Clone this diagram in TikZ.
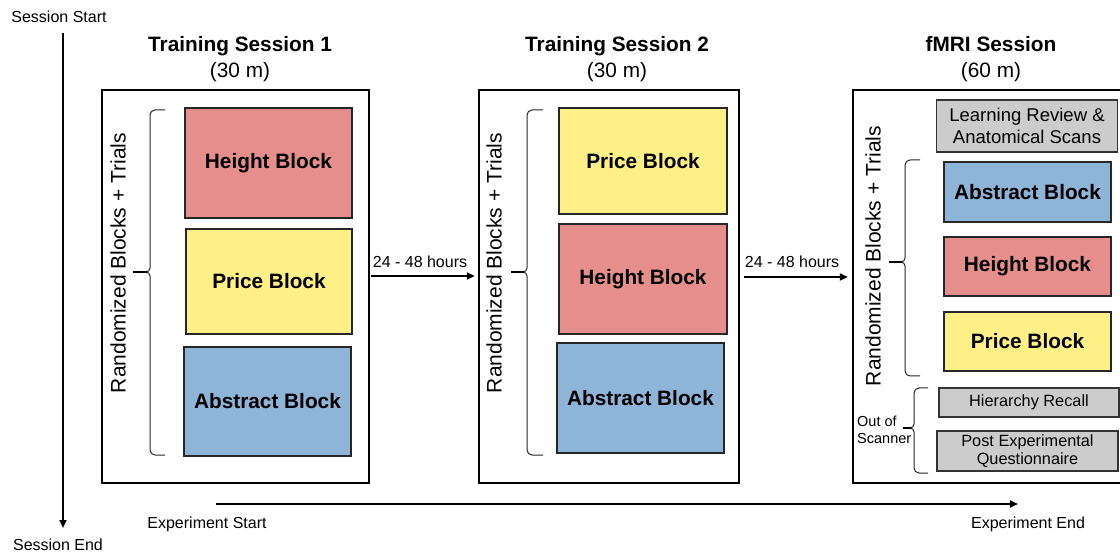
\documentclass[tikz,border=0pt]{standalone}
\usepackage{fontspec}
\setmainfont{Liberation Sans}
\usetikzlibrary{arrows.meta}
\definecolor{hcol}{RGB}{229,142,140}
\definecolor{pcol}{RGB}{254,239,134}
\definecolor{acol}{RGB}{142,180,216}
\definecolor{gcol}{RGB}{204,204,204}
\newcommand{\fs}[1]{\fontsize{#1}{#1}\selectfont}
\newcommand{\mybrace}[6]{% xend, xv, xtip, ytop, ytip, ybot
  \draw[bracestyle] (#1,#4) -- (#2+5,#4) to[out=180,in=90] (#2,#4+5) -- (#2,#5-4) to[out=-90,in=0] (#2-4,#5) -- (#3,#5);
  \draw[bracestyle] (#2-4,#5) to[out=0,in=90] (#2,#5+4) -- (#2,#6-5) to[out=-90,in=180] (#2+5,#6) -- (#1,#6);
  \draw[line width=2pt] (#3,#5) -- (#2-3,#5);
}
\begin{document}
\begin{tikzpicture}[x=1pt,y=-1pt,
  blk/.style={draw=black!85, line width=1.2pt, inner sep=0pt, font=\fs{20.8}\bfseries},
  gbox/.style={draw=black!80, fill=gcol, line width=1.2pt, inner sep=0pt, align=center},
  title/.style={align=center, font=\fs{20.8}, text depth=0pt},
  rot/.style={rotate=90, font=\fs{21}},
  small/.style={font=\fs{16}},
  arr/.style={line width=2pt, -{Triangle[length=8pt,width=7pt]}},
  bracestyle/.style={line width=1pt, draw=black!85}
]
\useasboundingbox (0,0) rectangle (1120,553);

% session axis
\node[small] (sstart) at (59,17) {Session Start};
\node[small] (send) at (58,545) {Session End};
\coordinate (sa) at (63,33);
\coordinate (sb) at (63,528);
\draw[arr] (sa) -- (sb);

% experiment axis
\coordinate (ea) at (216,504);
\coordinate (eb) at (1018,504);
\draw[arr] (ea) -- (eb);
\node[small] (estart) at (207,524) {Experiment Start};
\node[small] (eend) at (1028,524) {Experiment End};

% titles
\node[title] (t1) at (240,44) {\textbf{Training Session 1}};
\node[title] (t1b) at (240,70) {(30 m)};
\node[title] (t2) at (617,44) {\textbf{Training Session 2}};
\node[title] (t2b) at (617,70) {(30 m)};
\node[title] (t3) at (991,44) {\textbf{fMRI Session}};
\node[title] (t3b) at (991,70) {(60 m)};

% big boxes
\draw[line width=2.6pt] (102,90) rectangle (369,483);
\node[minimum width=267pt, minimum height=393pt, inner sep=0pt] (box1) at (235.5,286.5) {};
\draw[line width=2.6pt] (479,90) rectangle (739,483);
\node[minimum width=260pt, minimum height=393pt, inner sep=0pt] (box2) at (609,286.5) {};
\draw[line width=2.6pt] (853,90) rectangle (1124,483);
\node[minimum width=271pt, minimum height=393pt, inner sep=0pt] (box3) at (988.5,286.5) {};

% session 1 blocks
\node[blk, fill=hcol, minimum width=167pt, minimum height=110pt] (h1) at (268.5,163) {Height Block};
\node[blk, fill=pcol, minimum width=166pt, minimum height=105pt] (p1) at (269,281.5) {Price Block};
\node[blk, fill=acol, minimum width=167pt, minimum height=109pt] (a1) at (267.5,401.5) {Abstract Block};
\node[rot] (r1) at (118,263) {Randomized Blocks + Trials};
\mybrace{165}{150}{133}{110}{272}{455}

% session 2 blocks
\node[blk, fill=pcol, minimum width=168pt, minimum height=106pt] (p2) at (643,161) {Price Block};
\node[blk, fill=hcol, minimum width=168pt, minimum height=110pt] (h2) at (643,279) {Height Block};
\node[blk, fill=acol, minimum width=167pt, minimum height=110pt] (a2) at (640.5,398) {Abstract Block};
\node[rot] (r2) at (494,263) {Randomized Blocks + Trials};
\mybrace{543}{527}{511}{110}{272}{455}

% fMRI session blocks
\node[gbox, minimum width=181pt, minimum height=52pt, font=\fs{18.5}] (lr) at (1027,126) {Learning Review \&\\[3pt]Anatomical Scans};
\node[blk, fill=acol, minimum width=167pt, minimum height=60pt] (a3) at (1027.5,192) {Abstract Block};
\node[blk, fill=hcol, minimum width=167pt, minimum height=59pt] (h3) at (1027.5,266.5) {Height Block};
\node[blk, fill=pcol, minimum width=167pt, minimum height=59pt] (p3) at (1027.5,341.5) {Price Block};
\node[gbox, minimum width=180pt, minimum height=29pt, font=\fs{16.3}] (hr) at (1029,402.5) {Hierarchy Recall};
\node[gbox, minimum width=181pt, minimum height=40pt, font=\fs{16.3}] (pq) at (1027.5,451) {Post Experimental\\[2pt]Questionnaire};
\node[rot] (r3) at (873,256) {Randomized Blocks + Trials};
\mybrace{920}{905}{889}{160}{262}{376}
\mybrace{928}{914}{903}{388}{428}{473}
\node[font=\fs{14.5}, align=left, anchor=west, inner sep=0pt] (oos) at (857,430) {Out of\\[3pt]Scanner};

% between-session arrows
\draw[arr] ([xshift=2pt,yshift=10.5pt]box1.east) -- ([xshift=-4pt,yshift=10.5pt]box2.west);
\draw[arr] ([xshift=5pt,yshift=9.5pt]box2.east) -- ([xshift=-5pt,yshift=9.5pt]box3.west);
\node[small] (g1) at (420,262) {24 - 48 hours};
\node[small] (g2) at (792,262) {24 - 48 hours};
\end{tikzpicture}
\end{document}
